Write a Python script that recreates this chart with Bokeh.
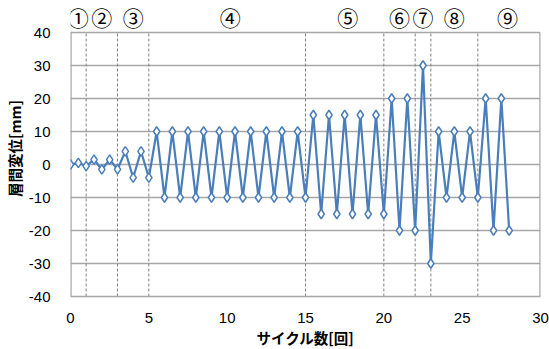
from bokeh.plotting import figure
from bokeh.models import FixedTicker, Range1d
from bokeh.core.properties import value
from bokeh.embed import file_html
from bokeh.resources import INLINE

# data
cycle = [0, 0.5, 1, 1.5, 2, 2.5, 3, 3.5, 4, 4.5, 5,
         5.5, 6, 6.5, 7, 7.5, 8, 8.5, 9, 9.5, 10, 10.5, 11, 11.5, 12, 12.5, 13, 13.5, 14, 14.5, 15,
         15.5, 16, 16.5, 17, 17.5, 18, 18.5, 19, 19.5, 20,
         20.5, 21, 21.5, 22, 22.5, 23, 23.5, 24, 24.5, 25, 25.5, 26, 26.5, 27, 27.5, 28]
disp = [0, 0.5, -0.5, 1.5, -1.5, 1.5, -1.5, 4, -4, 4, -4,
        10, -10, 10, -10, 10, -10, 10, -10, 10, -10, 10, -10, 10, -10, 10, -10, 10, -10, 10, -10,
        15, -15, 15, -15, 15, -15, 15, -15, 15, -15,
        20, -20, 20, -20, 30, -30, 10, -10, 10, -10, 10, -10, 20, -20, 20, -20]
boundaries = [1, 3, 5, 15, 20, 22, 23, 26]
stage_labels = ["①", "②", "③", "④", "⑤", "⑥", "⑦", "⑧", "⑨"]
stage_x = [0.5, 2.0, 4.0, 10.2, 17.7, 21.0, 22.5, 24.5, 27.9]
x_ticks = [0, 5, 10, 15, 20, 25, 30]
y_ticks = [-40, -30, -20, -10, 0, 10, 20, 30, 40]
y_tick_labels = ["-40", "-30", "-20", "-10", "0", "10", "20", "30", "40"]
x_lo, x_hi = 0, 30
y_lo, y_hi = -40, 40
label_row = 44.85   # y position of the stage markers (above the plot box)
y_top = 49.7        # room above the box for the stage markers

p = figure(output_backend="svg", toolbar_location=None,
           x_range=Range1d(x_lo, x_hi), y_range=Range1d(y_lo, y_top),
           frame_width=470, frame_height=296,
           min_border_left=64, min_border_top=0, min_border_right=10, min_border_bottom=50)

p.outline_line_color = None
p.background_fill_color = "white"
p.border_fill_color = "white"

p.xgrid.visible = False
p.ygrid.ticker = FixedTicker(ticks=y_ticks)
p.ygrid.grid_line_color = "#a6a6a6"
p.ygrid.grid_line_width = 1.3

p.xaxis.ticker = FixedTicker(ticks=x_ticks)
p.yaxis.ticker = FixedTicker(ticks=y_ticks)
p.yaxis.major_label_overrides = dict(zip(y_ticks, y_tick_labels))
for ax in (p.xaxis[0], p.yaxis[0]):
    ax.major_tick_line_color = None
    ax.minor_tick_line_color = None
    ax.axis_line_color = "#a6a6a6"
    ax.axis_line_width = 1.3
    ax.major_label_text_font = "Liberation Sans"
    ax.major_label_text_font_size = "15px"
    ax.major_label_text_color = "black"
    ax.axis_label_text_font = "Noto Sans CJK JP"
    ax.axis_label_text_font_size = "14.5px"
    ax.axis_label_text_font_style = "bold"
    ax.axis_label_text_color = "black"
p.yaxis.axis_line_color = None

p.xaxis.axis_label = "サイクル数[回]"
p.yaxis.axis_label = "層間変位[mm]"
p.xaxis.major_label_standoff = 10
p.xaxis.axis_label_standoff = 1
p.yaxis.major_label_standoff = 14
p.yaxis.axis_label_standoff = 1

# plot box sides (left/right), top is the gridline at 40, bottom is the x axis
p.segment(x0=[x_lo, x_hi], y0=[y_lo, y_lo], x1=[x_lo, x_hi], y1=[y_hi, y_hi],
          line_color="#a6a6a6", line_width=2.4)

# stage boundaries
p.segment(x0=boundaries, y0=[y_lo] * len(boundaries), x1=boundaries, y1=[y_hi] * len(boundaries),
          line_color="#808080", line_dash="3 2", line_width=1)

p.line(cycle, disp, line_color="#4a7ebb", line_width=2.2)
p.scatter(cycle, disp, marker="diamond", size=9.5, fill_color="white",
          line_color="#4a7ebb", line_width=1.5)

p.text(x=stage_x, y=[label_row] * len(stage_x), text=stage_labels,
       text_align="center", text_baseline="middle",
       text_font=value("Noto Sans CJK JP"), text_font_size="21px", text_color="black")

open("out.html", "w").write(file_html(p, INLINE))
